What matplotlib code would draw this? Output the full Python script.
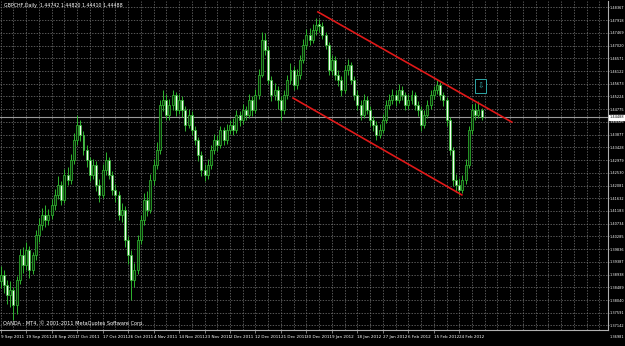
import numpy as np
import matplotlib
matplotlib.use("Agg")
import matplotlib.pyplot as plt
import matplotlib.transforms as mtransforms

# ---------------- data (GBPCHF daily) ----------------
opens = [1.3870,1.3892,1.3857,1.3822,1.3839,1.3786,1.3875,1.3963,1.3928,1.3980,
         1.3910,1.3963,1.4033,1.4069,1.4104,1.4086,1.4104,1.4139,1.4175,1.4210,
         1.4157,1.4245,1.4228,1.4298,1.4369,1.4422,1.4386,1.4333,1.4298,1.4245,
         1.4281,1.4210,1.4175,1.4263,1.4298,1.4245,1.4192,1.4175,1.4104,1.4122,
         1.4016,1.3963,1.3875,1.3910,1.4016,1.4086,1.4157,1.4122,1.4228,1.4281,
         1.4333,1.4492,1.4510,1.4457,1.4492,1.4528,1.4475,1.4510,1.4475,1.4422,
         1.4457,1.4404,1.4369,1.4316,1.4263,1.4245,1.4281,1.4333,1.4369,1.4351,
         1.4404,1.4369,1.4404,1.4422,1.4404,1.4457,1.4439,1.4475,1.4457,1.4510,
         1.4475,1.4528,1.4598,1.4722,1.4687,1.4581,1.4528,1.4545,1.4510,1.4475,
         1.4528,1.4581,1.4616,1.4563,1.4598,1.4651,1.4704,1.4739,1.4722,1.4757,
         1.4780,1.4770,1.4739,1.4704,1.4616,1.4651,1.4598,1.4581,1.4545,1.4616,
         1.4634,1.4581,1.4528,1.4492,1.4457,1.4510,1.4475,1.4439,1.4422,1.4386,
         1.4404,1.4439,1.4492,1.4510,1.4528,1.4510,1.4545,1.4528,1.4492,1.4510,
         1.4528,1.4492,1.4475,1.4422,1.4457,1.4492,1.4528,1.4545,1.4563,1.4528,
         1.4510,1.4439,1.4333,1.4228,1.4210,1.4192,1.4228,1.4281,1.4404,1.4475,
         1.4457,1.44742]
highs = [1.3925,1.3910,1.3875,1.3870,1.3850,1.3890,1.3985,1.3990,1.4010,1.3995,
         1.3975,1.4050,1.4095,1.4130,1.4140,1.4125,1.4160,1.4195,1.4240,1.4225,
         1.4265,1.4275,1.4320,1.4395,1.4457,1.4440,1.4400,1.4350,1.4310,1.4300,
         1.4295,1.4230,1.4285,1.4325,1.4310,1.4260,1.4215,1.4190,1.4145,1.4135,
         1.4030,1.3980,1.3935,1.4035,1.4105,1.4180,1.4190,1.4250,1.4300,1.4360,
         1.4510,1.4545,1.4530,1.4515,1.4545,1.4540,1.4530,1.4525,1.4490,1.4480,
         1.4470,1.4420,1.4380,1.4330,1.4285,1.4300,1.4350,1.4390,1.4385,1.4420,
         1.4415,1.4425,1.4440,1.4445,1.4475,1.4470,1.4495,1.4490,1.4530,1.4525,
         1.4550,1.4620,1.4750,1.4745,1.4700,1.4595,1.4570,1.4560,1.4525,1.4545,
         1.4600,1.4640,1.4630,1.4620,1.4670,1.4725,1.4760,1.4765,1.4780,1.4800,
         1.4795,1.4785,1.4750,1.4715,1.4670,1.4665,1.4615,1.4595,1.4635,1.4655,
         1.4645,1.4595,1.4545,1.4510,1.4530,1.4525,1.4490,1.4455,1.4435,1.4425,
         1.4460,1.4510,1.4530,1.4550,1.4545,1.4565,1.4560,1.4540,1.4530,1.4545,
         1.4540,1.4505,1.4490,1.4475,1.4510,1.4545,1.4560,1.4580,1.4575,1.4540,
         1.4520,1.4450,1.4345,1.4250,1.4235,1.4245,1.4300,1.4420,1.4495,1.4500,
         1.4505,1.44820]
lows = [1.3845,1.3830,1.3790,1.3780,1.3733,1.3755,1.3860,1.3900,1.3910,1.3880,
        1.3895,1.3945,1.4010,1.4050,1.4060,1.4070,1.4090,1.4120,1.4160,1.4140,
        1.4145,1.4210,1.4215,1.4285,1.4350,1.4365,1.4315,1.4275,1.4225,1.4230,
        1.4190,1.4150,1.4165,1.4245,1.4230,1.4175,1.4150,1.4085,1.4080,1.3990,
        1.3930,1.3804,1.3850,1.3895,1.4000,1.4070,1.4100,1.4110,1.4210,1.4265,
        1.4320,1.4470,1.4440,1.4440,1.4475,1.4455,1.4460,1.4450,1.4400,1.4410,
        1.4385,1.4350,1.4295,1.4240,1.4225,1.4230,1.4265,1.4320,1.4330,1.4340,
        1.4350,1.4355,1.4390,1.4385,1.4395,1.4420,1.4425,1.4440,1.4445,1.4455,
        1.4465,1.4515,1.4590,1.4670,1.4565,1.4505,1.4510,1.4480,1.4440,1.4460,
        1.4515,1.4565,1.4545,1.4550,1.4585,1.4640,1.4690,1.4705,1.4710,1.4740,
        1.4750,1.4725,1.4690,1.4600,1.4600,1.4580,1.4560,1.4525,1.4535,1.4600,
        1.4565,1.4510,1.4475,1.4440,1.4445,1.4460,1.4420,1.4400,1.4369,1.4375,
        1.4395,1.4430,1.4480,1.4495,1.4490,1.4500,1.4510,1.4475,1.4480,1.4495,
        1.4475,1.4455,1.4400,1.4410,1.4445,1.4480,1.4515,1.4530,1.4510,1.4490,
        1.4420,1.4315,1.4205,1.4185,1.4175,1.4180,1.4215,1.4270,1.4390,1.4440,
        1.4445,1.44410]
closes = [1.3892,1.3857,1.3822,1.3839,1.3786,1.3875,1.3963,1.3928,1.3980,1.3910,
          1.3963,1.4033,1.4069,1.4104,1.4086,1.4104,1.4139,1.4175,1.4210,1.4157,
          1.4245,1.4228,1.4298,1.4369,1.4422,1.4386,1.4333,1.4298,1.4245,1.4281,
          1.4210,1.4175,1.4263,1.4298,1.4245,1.4192,1.4175,1.4104,1.4122,1.4016,
          1.3963,1.3875,1.3910,1.4016,1.4086,1.4157,1.4122,1.4228,1.4281,1.4333,
          1.4492,1.4510,1.4457,1.4492,1.4528,1.4475,1.4510,1.4475,1.4422,1.4457,
          1.4404,1.4369,1.4316,1.4263,1.4245,1.4281,1.4333,1.4369,1.4351,1.4404,
          1.4369,1.4404,1.4422,1.4404,1.4457,1.4439,1.4475,1.4457,1.4510,1.4475,
          1.4528,1.4598,1.4722,1.4687,1.4581,1.4528,1.4545,1.4510,1.4475,1.4528,
          1.4581,1.4616,1.4563,1.4598,1.4651,1.4704,1.4739,1.4722,1.4757,1.4775,
          1.4770,1.4739,1.4704,1.4616,1.4651,1.4598,1.4581,1.4545,1.4616,1.4634,
          1.4581,1.4528,1.4492,1.4457,1.4510,1.4475,1.4439,1.4422,1.4386,1.4404,
          1.4439,1.4492,1.4510,1.4528,1.4510,1.4545,1.4528,1.4492,1.4510,1.4528,
          1.4492,1.4475,1.4422,1.4457,1.4492,1.4528,1.4545,1.4563,1.4528,1.4510,
          1.4439,1.4333,1.4228,1.4210,1.4192,1.4228,1.4281,1.4404,1.4475,1.4457,
          1.44742,1.44488]

date_labels = ['9 Sep 2011', '19 Sep 2011', '28 Sep 2011', '7 Oct 2011', '17 Oct 2011',
               '26 Oct 2011', '4 Nov 2011', '14 Nov 2011', '23 Nov 2011', '2 Dec 2011',
               '12 Dec 2011', '21 Dec 2011', '30 Dec 2011', '9 Jan 2012', '18 Jan 2012',
               '27 Jan 2012', '6 Feb 2012', '15 Feb 2012', '24 Feb 2012']
date_label_bars = [0, 8, 16, 24, 32, 40, 48, 56, 64, 72, 80, 88, 96, 104, 112, 120, 128, 136, 144]

price_ticks = [1.48367, 1.47918, 1.47469, 1.47020, 1.46571, 1.46122, 1.45673, 1.45224,
               1.44775, 1.44326, 1.43877, 1.43428, 1.42979, 1.42530, 1.42081, 1.41632,
               1.41183, 1.40734, 1.40285, 1.39836, 1.39387, 1.38938, 1.38489, 1.38040,
               1.37591, 1.37142]

# trend lines (bar index, price)
upper_trend_bars = [99.6, 160.5]
upper_trend_prices = [1.4821, 1.4432]
lower_trend_bars = [91.8, 144.8]
lower_trend_prices = [1.4517, 1.4175]

alert_bar, alert_price = 150.8, 1.4560
last_price = 1.44488
chart_bottom_price = 1.36981
header = "GBPCHF,Daily  1.44742 1.44820 1.44410 1.44488"
footer = "OANDA - MT4, \u00a9 2001-2011 MetaQuotes Software Corp."

# ---------------- drawing ----------------
W, H = 625, 346
fig = plt.figure(figsize=(W / 100, H / 100), dpi=100, facecolor='black')
ax = fig.add_axes([0 / W, 16 / H, 608 / W, 329 / H], facecolor='black')

GREEN = '#2fb52f'
o = np.array(opens); h = np.array(highs); l = np.array(lows); c = np.array(closes)
idx = np.arange(len(c))
up = c >= o

# grid
GRID = '#7a7a7a'
for xb in np.arange(0, 192, 4):
    ax.axvline(xb, color=GRID, lw=0.5, ls=(0, (2, 2)), zorder=0)
for p in price_ticks:
    ax.axhline(p, color=GRID, lw=0.5, ls=(0, (2, 2)), zorder=0)

# last price line
ax.axhline(last_price, color='#9a9a9a', lw=0.8, zorder=1)

# candles
ax.vlines(idx, l, h, color=GREEN, lw=0.7, zorder=2)
ax.bar(idx[up], (c - o)[up], bottom=o[up], width=0.62, color='#0a2a0a',
       edgecolor=GREEN, lw=0.55, zorder=3)
ax.bar(idx[~up], (o - c)[~up], bottom=c[~up], width=0.62, color='#f4fff4',
       edgecolor=GREEN, lw=0.55, zorder=3)

# trend lines
ax.plot(upper_trend_bars, upper_trend_prices, color='#e01818', lw=1.2, zorder=4)
ax.plot(lower_trend_bars, lower_trend_prices, color='#e01818', lw=1.2, zorder=4)

# alert icon
ax.text(alert_bar, alert_price, '\u21e9', color='#30a8a8', fontsize=5.5,
        ha='center', va='center', zorder=5,
        bbox=dict(boxstyle='square,pad=0.3', fc='black', ec='#30a8a8', lw=0.7))

ax.set_xlim(-0.22, 190.7)
ax.set_ylim(chart_bottom_price, 1.48595)

# axes styling
for s in ['top', 'left']:
    ax.spines[s].set_visible(False)
for s in ['right', 'bottom']:
    ax.spines[s].set_color('#b0b0b0')
    ax.spines[s].set_linewidth(0.8)

ax.yaxis.tick_right()
ax.set_yticks(price_ticks)
ax.set_yticklabels([f'{p:.5f}' for p in price_ticks])
ax.tick_params(axis='y', colors='#b0b0b0', labelcolor='white', labelsize=2.5,
               length=1, width=0.5, pad=0.5)
ax.set_xticks(date_label_bars)
ax.set_xticklabels(date_labels, ha='left')
ax.tick_params(axis='x', colors='#b0b0b0', labelcolor='white', labelsize=3.0,
               length=2, width=0.5, pad=1.5)

# current price tag on the scale
trans = mtransforms.blended_transform_factory(ax.transAxes, ax.transData)
ax.text(1.003, last_price, f'{last_price:.5f}', transform=trans, fontsize=2.5,
        color='black', va='center', ha='left', zorder=6,
        clip_on=False, bbox=dict(boxstyle='square,pad=0.1', fc='white', ec='white'))
ax.text(1.003, -0.022, f'{chart_bottom_price:.5f}', transform=ax.transAxes,
        fontsize=2.5, color='white', va='center', ha='left', clip_on=False)

fig.text(4 / W, 1 - 6 / H, header, color='white', fontsize=3.4, va='center', ha='left')
ax.text(3 / 608, 4 / 329, footer, transform=ax.transAxes, color='white',
        fontsize=3.6, va='bottom', ha='left')

fig.savefig('out.png', dpi=100, facecolor='black')
